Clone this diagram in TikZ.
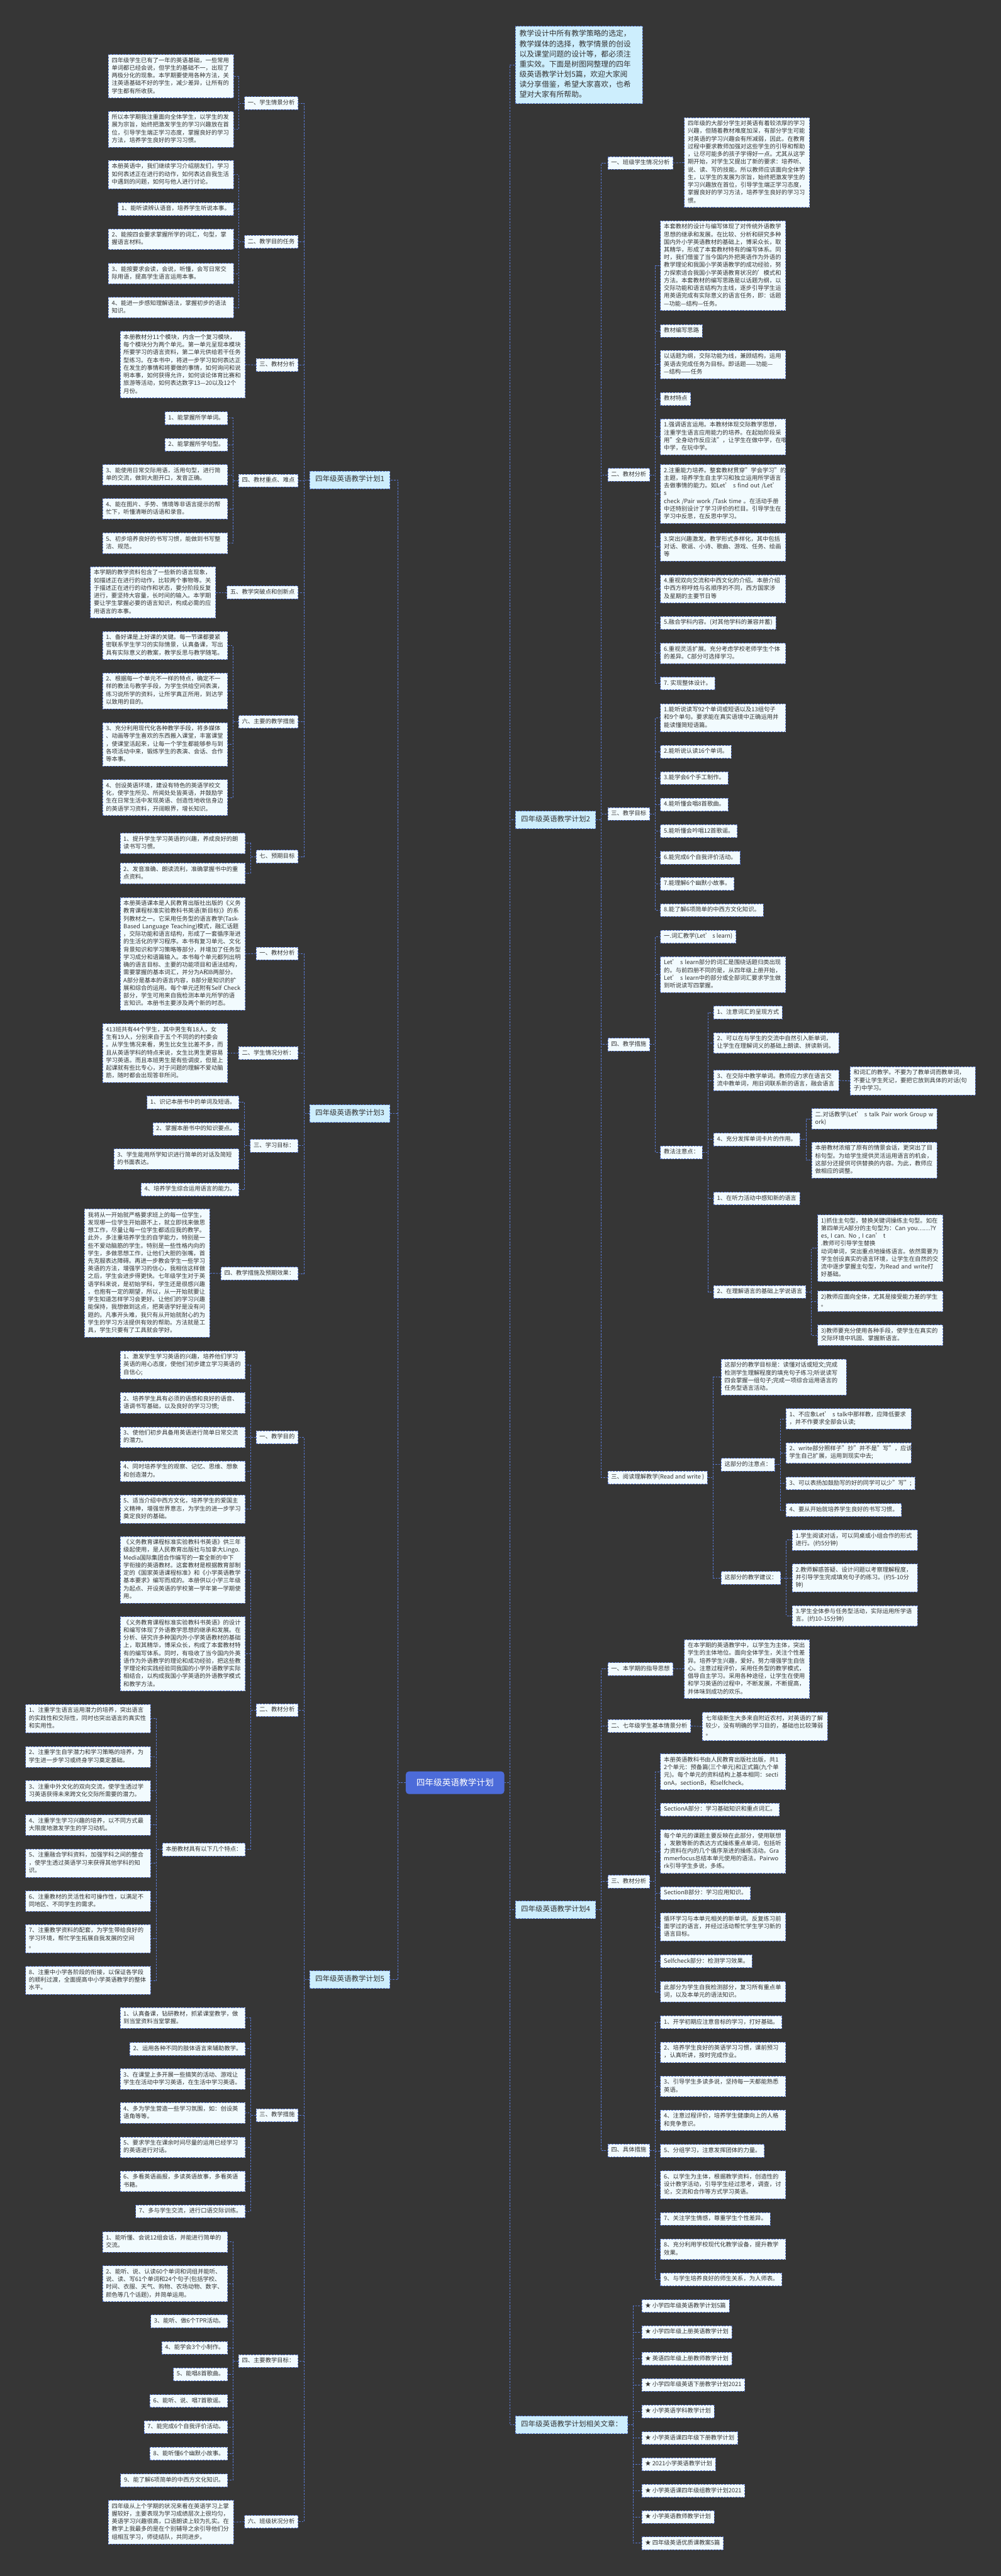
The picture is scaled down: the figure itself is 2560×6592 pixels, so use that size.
\documentclass[tikz,border=0pt]{standalone}
\usepackage{fontspec}
\setmainfont{Noto Sans CJK SC}
\definecolor{bg}{HTML}{363636}
\definecolor{ln}{HTML}{5A7BD8}
\definecolor{leaff}{HTML}{F2FBFE}
\definecolor{lonef}{HTML}{CDEEFD}
\definecolor{txt}{HTML}{333333}
\definecolor{ctrf}{HTML}{4C6BD9}
\newcommand{\fsleaf}{\fontsize{15pt}{19.7pt}\selectfont}
\newcommand{\fslone}{\fontsize{18.5pt}{23pt}\selectfont}
\newcommand{\fsintro}{\fontsize{19pt}{26pt}\selectfont}
\newcommand{\fsctr}{\fontsize{22pt}{28pt}\selectfont}
\tikzset{
  base/.style={draw=ln, line width=1.4pt, dash pattern=on 4.5pt off 3pt, text=txt, align=left,
    execute at begin node=\strut, execute at end node=\strut},
  leaf/.style={base, fill=leaff, font=\fsleaf, inner xsep=8.5pt, inner ysep=6.5pt},
  wide/.style={leaf, text width=303pt},
  lone/.style={base, fill=lonef, font=\fslone, inner xsep=14pt, inner ysep=11pt},
  intro/.style={base, fill=lonef, font=\fsintro, inner xsep=10pt, inner ysep=8pt, text width=305pt},
  ctr/.style={fill=ctrf, rounded corners=8pt, text=white, font=\fsctr, minimum width=252pt, minimum height=58pt, inner sep=10pt},
  conn/.style={draw=ln, line width=1.4pt, dash pattern=on 4.5pt off 3pt},
}
\begin{document}
\begin{tikzpicture}[x=1pt,y=-1pt]
\fill[bg] (0,0) rectangle (2560,6592);
\useasboundingbox (0,0) rectangle (2560,6592);

\node[ctr] (ctr) at (1164,4562) {四年级英语教学计划};

% ================= LEFT: plan 1 =================
\node[lone,anchor=east] (p1) at (998,1228) {四年级英语教学计划1};
\node[leaf,anchor=east] (p1a) at (763,264) {一、学生情景分析};
\node[wide,anchor=east] (p1a1) at (598,195) {四年级学生已有了一年的英语基础，一些常用\\单词都已经会说，但学生的基础不一，出现了\\两极分化的现象。本学期要使用各种方法，关\\注英语基础不好的学生，减少差异，让所有的\\学生都有所收获。};
\node[wide,anchor=east] (p1a2) at (598,331) {所以本学期我注重面向全体学生，以学生的发\\展为宗旨，始终把激发学生的学习兴趣放在首\\位，引导学生端正学习态度，掌握良好的学习\\方法，培养学生良好的学习习惯。};
\node[leaf,anchor=east] (p1b) at (763,619) {二、教学目的任务};
\node[wide,anchor=east] (p1b0) at (598,447) {本册英语中，我们继续学习介绍朋友们，学习\\如何表述正在进行的动作，如何表达自我生活\\中遇到的问题，如何与他人进行讨论。};
\node[leaf,anchor=east] (p1b1) at (598,535) {1、能听读辨认语音，培养学生听说本事。};
\node[wide,anchor=east] (p1b2) at (598,612) {2、能按四会要求掌握所学的词汇，句型，掌\\握语言材料。};
\node[wide,anchor=east] (p1b3) at (598,700) {3、能按要求会读，会说，听懂，会写日常交\\际用语，提高学生语言运用本事。};
\node[wide,anchor=east] (p1b4) at (598,787) {4、能进一步感知理解语法，掌握初步的语法\\知识。};
\node[leaf,anchor=east] (p1c) at (763,934) {三、教材分析};
\node[wide,anchor=east] (p1c1) at (628,933) {本册教材分11个模块，内含一个复习模块，\\每个模块分为两个单元。第一单元呈现本模块\\所要学习的语言资料，第二单元供给若干任务\\型练习。在本书中，将进一步学习如何表达正\\在发生的事情和将要做的事情，如何询问和说\\明本事，如何获得允许，如何谈论体育比赛和\\旅游等活动，如何表达数字13—20以及12个\\月份。};
\node[leaf,anchor=east] (p1d) at (763,1230) {四、教材重点、难点};
\node[leaf,anchor=east] (p1d1) at (583,1070) {1、能掌握所学单词。};
\node[leaf,anchor=east] (p1d2) at (583,1138) {2、能掌握所学句型。};
\node[wide,anchor=east] (p1d3) at (583,1215) {3、能使用日常交际用语，活用句型，进行简\\单的交流，做到大胆开口，发音正确。};
\node[wide,anchor=east] (p1d4) at (583,1302) {4、能在图片、手势、情境等非语言提示的帮\\忙下，听懂清晰的话语和录音。};
\node[wide,anchor=east] (p1d5) at (583,1390) {5、初步培养良好的书写习惯，能做到书写整\\洁、规范。};
\node[leaf,anchor=east] (p1e) at (763,1516) {五、教学突破点和创新点};
\node[wide,anchor=east] (p1e1) at (552,1516) {本学期的教学资料包含了一些新的语言现象，\\如描述正在进行的动作，比较两个事物等。关\\于描述正在进行的动作和状态，要分阶段反复\\进行，要坚持大容量，长时间的输入。本学期\\要让学生掌握必要的语言知识，构成必需的应\\用语言的本事。};
\node[leaf,anchor=east] (p1f) at (763,1847) {六、主要的教学措施};
\node[wide,anchor=east] (p1f1) at (583,1652) {1、备好课是上好课的关键。每一节课都要紧\\密联系学生学习的实际情景，认真备课，写出\\具有实际意义的教案，教学反思与教学随笔。};
\node[wide,anchor=east] (p1f2) at (583,1768) {2、根据每一个单元不一样的特点，确定不一\\样的教法与教学手段，为学生供给空间表演，\\练习说所学的资料，让所学真正所用，到达学\\以致用的目的。};
\node[wide,anchor=east] (p1f3) at (583,1905) {3、充分利用现代化各种教学手段，将多媒体\\、动画等学生喜欢的东西搬入课堂，丰富课堂\\，使课堂活起来，让每一个学生都能够参与到\\各项活动中来，锻炼学生的表演、会话、合作\\等本事。};
\node[wide,anchor=east] (p1f4) at (583,2041) {4、创设英语环境，建设有特色的英语学校文\\化，使学生所见、所闻处处皆英语，并鼓励学\\生在日常生活中发现英语、创造性地收信身边\\的英语学习资料，开阔眼界，增长知识。};
\node[leaf,anchor=east] (p1g) at (763,2192) {七、预期目标};
\node[wide,anchor=east] (p1g1) at (628,2158) {1、提升学生学习英语的兴趣，养成良好的朗\\读书写习惯。};
\node[wide,anchor=east] (p1g2) at (628,2235) {2、发音准确、朗读流利，准确掌握书中的重\\点资料。};

\foreach \c in {p1a,p1b,p1c,p1d,p1e,p1f,p1g} \draw[conn] (p1.west) -- ++(-14,0) |- (\c.east);
\foreach \c in {p1a1,p1a2} \draw[conn] (p1a.west) -- ++(-14,0) |- (\c.east);
\foreach \c in {p1b0,p1b1,p1b2,p1b3,p1b4} \draw[conn] (p1b.west) -- ++(-14,0) |- (\c.east);
\draw[conn] (p1c.west) -- (p1c1.east);
\foreach \c in {p1d1,p1d2,p1d3,p1d4,p1d5} \draw[conn] (p1d.west) -- ++(-14,0) |- (\c.east);
\draw[conn] (p1e.west) -- (p1e1.east);
\foreach \c in {p1f1,p1f2,p1f3,p1f4} \draw[conn] (p1f.west) -- ++(-14,0) |- (\c.east);
\foreach \c in {p1g1,p1g2} \draw[conn] (p1g.west) -- ++(-14,0) |- (\c.east);

% ================= LEFT: plan 3 =================
\node[lone,anchor=east] (p3) at (998,2850) {四年级英语教学计划3};
\node[leaf,anchor=east] (p3a) at (763,2440) {一、教材分析};
\node[wide,anchor=east] (p3a1) at (628,2441) {本册英语课本是人民教育出版社出版的《义务\\教育课程标准实验教科书英语(新目标)》的系\\列教材之一。它采用任务型的语言教学(Task-\\Based Language Teaching)模式，融汇话题\\，交际功能和语言结构，形成了一套循序渐进\\的生活化的学习程序。本书有复习单元、文化\\背景知识和学习策略等部分，并增加了任务型\\学习成分和语篇输入。本书每个单元都列出明\\确的语言目标、主要的功能项目和语法结构，\\需要掌握的基本词汇，并分为A和B两部分。\\A部分是基本的语言内容，B部分是知识的扩\\展和综合的运用。每个单元还附有Self Check\\ 部分，学生可用来自我检测本单元所学的语\\言知识。本册书主要涉及两个新的时态。};
\node[leaf,anchor=east] (p3b) at (763,2695) {二、学生情况分析：};
\node[wide,anchor=east] (p3b1) at (583,2695) {413班共有44个学生，其中男生有18人，女\\生有19人，分别来自于五个不同的的村委会\\。从学生情况来看，男生比女生比差不多，而\\且从英语学科的特点来说，女生比男生更容易\\学习英语。而且本班男生是有些调皮，但是上\\起课就有些比专心，对于问题的理解不爱动脑\\筋，随时都会出现答非所问。};
\node[leaf,anchor=east] (p3c) at (763,2932) {三、学习目标：};
\node[leaf,anchor=east] (p3c1) at (612,2821) {1、识记本册书中的单词及短语。};
\node[leaf,anchor=east] (p3c2) at (612,2889) {2、掌握本册书中的知识要点。};
\node[wide,anchor=east] (p3c3) at (612,2966) {3、学生能用所学知识进行简单的对话及简短\\的书面表达。};
\node[leaf,anchor=east] (p3c4) at (612,3044) {4、培养学生综合运用语言的能力。};
\node[leaf,anchor=east] (p3d) at (763,3259) {四、教学措施及预期效果：};
\node[wide,anchor=east] (p3d1) at (537,3258) {我将从一开始就严格要求班上的每一位学生，\\发现哪一位学生开始跟不上，就立即找来做思\\想工作，尽量让每一位学生都适应我的教学。\\此外，多注重培养学生的自学能力，特别是一\\些不爱动脑筋的学生。特别是一些性格内向的\\学生，多做思想工作，让他们大胆的张嘴，首\\先克服表达障碍。再进一步教会学生一些学习\\英语的方法，增强学习的信心，我相信这样做\\之后，学生会进步得更快。七年级学生对于英\\语学科来说，是初始学科，学生还是很感兴趣\\，也抱有一定的期望，所以，从一开始就要让\\学生知道怎样学习会更好。让他们的学习兴趣\\能保持，我想做到这点，把英语学好是没有问\\题的。凡事开头难，我只有从开始就耐心的为\\学生的学习方法提供有效的帮助。方法就是工\\具，学生只要有了工具就会学好。};

\foreach \c in {p3a,p3b,p3c,p3d} \draw[conn] (p3.west) -- ++(-14,0) |- (\c.east);
\draw[conn] (p3a.west) -- (p3a1.east);
\draw[conn] (p3b.west) -- (p3b1.east);
\foreach \c in {p3c1,p3c2,p3c3,p3c4} \draw[conn] (p3c.west) -- ++(-14,0) |- (\c.east);
\draw[conn] (p3d.west) -- (p3d1.east);

% ================= LEFT: plan 5 =================
\node[lone,anchor=east] (p5) at (998,5066) {四年级英语教学计划5};
\node[leaf,anchor=east] (p5a) at (763,3678) {一、教学目的};
\node[wide,anchor=east] (p5a1) at (628,3493) {1、激发学生学习英语的兴趣，培养他们学习\\英语的用心态度，使他们初步建立学习英语的\\自信心;};
\node[wide,anchor=east] (p5a2) at (628,3590) {2、培养学生具有必须的语感和良好的语音、\\语调书写基础，以及良好的学习习惯;};
\node[wide,anchor=east] (p5a3) at (628,3678) {3、使他们初步具备用英语进行简单日常交流\\的潜力。};
\node[wide,anchor=east] (p5a4) at (628,3765) {4、同时培养学生的观察、记忆、思维、想象\\和创造潜力。};
\node[wide,anchor=east] (p5a5) at (628,3862) {5、适当介绍中西方文化，培养学生的爱国主\\义精神，增强世界意志，为学生的进一步学习\\奠定良好的基础。};
\node[leaf,anchor=east] (p5b) at (763,4376) {二、教材分析};
\node[wide,anchor=east] (p5b1) at (628,4017) {《义务教育课程标准实验教科书英语》供三年\\级起使用，是人民教育出版社与加拿大Lingo.\\Media国际集团合作编写的一套全新的中下\\学衔接的英语教材。这套教材是根据教育部制\\定的《国家英语课程标准》和《小学英语教学\\基本要求》编写而成的。本册供以小学三年级\\为起点、开设英语的学校第一学年第一学期使\\用。};
\node[wide,anchor=east] (p5b2) at (628,4232) {《义务教育课程标准实验教科书英语》的设计\\和编写体现了外语教学思想的继承和发展。在\\分析、研究许多种国内外小学英语教材的基础\\上，取其精华，博采众长，构成了本套教材特\\有的编写体系。同时，有吸收了当今国内外英\\语作为外语教学的理论和成功经验，把这些教\\学理论和实践经验同我国的小学外语教学实际\\相结合，以构成我国小学英语的外语教学模式\\和教学方法。};
\node[leaf,anchor=east] (p5b3) at (628,4733) {本册教材具有以下几个特点：};
\node[wide,anchor=east] (p5t1) at (386,4398) {1、注重学生语言运用潜力的培养，突出语言\\的实践性和交际性，同时也突出语言的真实性\\和实用性。};
\node[wide,anchor=east] (p5t2) at (386,4496) {2、注重学生自学潜力和学习策略的培养，为\\学生进一步学习或终身学习奠定基础。};
\node[wide,anchor=east] (p5t3) at (386,4583) {3、注重中外文化的双向交流，使学生透过学\\习英语获得未来跨文化交际所需要的潜力。};
\node[wide,anchor=east] (p5t4) at (386,4670) {4、注重学生学习兴趣的培养，以不同方式最\\大限度地激发学生的学习动机。};
\node[wide,anchor=east] (p5t5) at (386,4768) {5、注重融合学科资料，加强学科之间的整合\\，使学生透过英语学习来获得其他学科的知\\识。};
\node[wide,anchor=east] (p5t6) at (386,4865) {6、注重教材的灵活性和可操作性，以满足不\\同地区、不同学生的需求。};
\node[wide,anchor=east] (p5t7) at (386,4961) {7、注重教学资料的配套，为学生带给良好的\\学习环境，帮忙学生拓展自我发展的空间\\。};
\node[wide,anchor=east] (p5t8) at (386,5068) {8、注重中小学各阶段的衔接，以保证各学段\\的顺利过渡，全面提高中小学英语教学的整体\\水平。};
\node[leaf,anchor=east] (p5c) at (763,5413) {三、教学措施};
\node[wide,anchor=east] (p5c1) at (628,5164) {1、认真备课，钻研教材，抓紧课堂教学，做\\到当堂资料当堂掌握。};
\node[leaf,anchor=east] (p5c2) at (628,5243) {2、运用各种不同的肢体语言来辅助教学。};
\node[wide,anchor=east] (p5c3) at (628,5320) {3、在课堂上多开展一些搞笑的活动、游戏让\\学生在活动中学习英语，在生活中学习英语。};
\node[wide,anchor=east] (p5c4) at (628,5407) {4、多为学生营造一些学习氛围，如：创设英\\语角等等。};
\node[wide,anchor=east] (p5c5) at (628,5495) {5、要求学生在课余时间尽量的运用已经学习\\的英语进行对话。};
\node[wide,anchor=east] (p5c6) at (628,5582) {6、多看英语画报，多读英语故事，多看英语\\书籍。};
\node[leaf,anchor=east] (p5c7) at (628,5659) {7、多与学生交流，进行口语交际训练。};
\node[leaf,anchor=east] (p5d) at (763,6042) {四、主要教学目标：};
\node[wide,anchor=east] (p5d1) at (583,5737) {1、能听懂、会说12组会话，并能进行简单的\\交流。};
\node[wide,anchor=east] (p5d2) at (583,5844) {2、能听、说、认读60个单词和词组并能听、\\说、读、写61个单词和24个句子(包括学校、\\时间、衣服、天气、购物、农场动物、数字、\\颜色等几个话题)，并简单运用。};
\node[leaf,anchor=east] (p5d3) at (583,5940) {3、能听、做6个TPR活动。};
\node[leaf,anchor=east] (p5d4) at (583,6008) {4、能学会3个小制作。};
\node[leaf,anchor=east] (p5d5) at (583,6076) {5、能唱8首歌曲。};
\node[leaf,anchor=east] (p5d6) at (583,6144) {6、能听、说、唱7首歌谣。};
\node[leaf,anchor=east] (p5d7) at (583,6211) {7、能完成6个自我评价活动。};
\node[leaf,anchor=east] (p5d8) at (583,6279) {8、能听懂6个幽默小故事。};
\node[leaf,anchor=east] (p5d9) at (583,6347) {9、能了解6项简单的中西方文化知识。};
\node[leaf,anchor=east] (p5e) at (763,6453) {六、班级状况分析};
\node[wide,anchor=east] (p5e1) at (598,6454) {四年级从上个学期的状况来看在英语学习上掌\\握较好，主要表现为学习成绩层次上很均匀，\\英语学习兴趣很高，口语朗读上较为扎实。在\\教学上我最多的是在个别辅导之余引导他们分\\组相互学习，师徒结队，共同进步。};

\foreach \c in {p5a,p5b,p5c,p5d,p5e} \draw[conn] (p5.west) -- ++(-14,0) |- (\c.east);
\foreach \c in {p5a1,p5a2,p5a3,p5a4,p5a5} \draw[conn] (p5a.west) -- ++(-14,0) |- (\c.east);
\foreach \c in {p5b1,p5b2,p5b3} \draw[conn] (p5b.west) -- ++(-14,0) |- (\c.east);
\foreach \c in {p5t1,p5t2,p5t3,p5t4,p5t5,p5t6,p5t7,p5t8} \draw[conn] (p5b3.west) -- ++(-14,0) |- (\c.east);
\foreach \c in {p5c1,p5c2,p5c3,p5c4,p5c5,p5c6,p5c7} \draw[conn] (p5c.west) -- ++(-14,0) |- (\c.east);
\foreach \c in {p5d1,p5d2,p5d3,p5d4,p5d5,p5d6,p5d7,p5d8,p5d9} \draw[conn] (p5d.west) -- ++(-14,0) |- (\c.east);
\draw[conn] (p5e.west) -- (p5e1.east);

% center to left
\foreach \c in {p1,p3,p5} \draw[conn] (ctr.west) -- ++(-20,0) |- (\c.east);

% ================= RIGHT: intro =================
\node[intro,anchor=west] (intro) at (1318,166) {教学设计中所有教学策略的选定，\\教学媒体的选择，教学情景的创设\\以及课堂问题的设计等，都必须注\\重实效。下面是树图网整理的四年\\级英语教学计划5篇，欢迎大家阅\\读分享借鉴，希望大家喜欢，也希\\望对大家有所帮助。};

% ================= RIGHT: plan 2 =================
\node[lone,anchor=west] (p2) at (1318,2098) {四年级英语教学计划2};
\node[leaf,anchor=west] (p2a) at (1554,417) {一、班级学生情况分析};
\node[wide,anchor=west] (p2a1) at (1750,416) {四年级的大部分学生对英语有着较浓厚的学习\\兴趣，但随着教材难度加深，有部分学生可能\\对英语的学习兴趣会有所减弱，因此，在教育\\过程中要求教师加强对这些学生的引导和帮助\\，让尽可能多的孩子学得好一点。尤其从这学\\期开始，对学生又提出了新的要求：培养听、\\说、读、写的技能。所以教师应该面向全体学\\生，以学生的发展为宗旨，始终把激发学生的\\学习兴趣放在首位，引导学生端正学习态度，\\掌握良好的学习方法，培养学生良好的学习习\\惯。};
\node[leaf,anchor=west] (p2b) at (1554,1215) {二、教材分析};
\node[wide,anchor=west] (p2b1) at (1689,680) {本套教材的设计与编写体现了对传统外语教学\\思想的继承和发展。在比较、分析和研究多种\\国内外小学英语教材的基础上，博采众长，取\\其精华，形成了本套教材特有的编写体系。同\\时，我们借鉴了当今国内外把英语作为外语的\\教学理论和我国小学英语教学的成功经验，努\\力探索适合我国小学英语教育状况的'模式和\\方法。本套教材的编写思路是以话题为纲，以\\交际功能和语言结构为主线，逐步引导学生运\\用英语完成有实际意义的语言任务，即：话题\\—功能—结构—任务。};
\node[leaf,anchor=west] (p2b2) at (1689,847) {教材编写思路};
\node[wide,anchor=west] (p2b3) at (1689,933) {以话题为纲，交际功能为线，兼顾结构，运用\\英语去完成任务为目标。即话题——功能—\\—结构——任务};
\node[leaf,anchor=west] (p2b4) at (1689,1021) {教材特点};
\node[wide,anchor=west] (p2b5) at (1689,1118) {1.强调语言运用。本教材体现交际教学思想，\\注重学生语言应用能力的培养。在起始阶段采\\用"全身动作反应法"，让学生在做中学，在唱\\中学，在玩中学。};
\node[wide,anchor=west] (p2b6) at (1689,1264) {2.注重能力培养。整套教材贯穿"学会学习"的\\主题，培养学生自主学习和独立运用所学语言\\去做事情的能力。如Let’ s find out /Let’ s\\check /Pair work /Task time 。在活动手册\\中还特别设计了学习评价的栏目。引导学生在\\学习中反思，在反思中学习。};
\node[wide,anchor=west] (p2b7) at (1689,1400) {3.突出兴趣激发。教学形式多样化，其中包括\\对话、歌谣、小诗、歌曲、游戏、任务、绘画\\等};
\node[wide,anchor=west] (p2b8) at (1689,1507) {4.重视双向交流和中西文化的介绍。本册介绍\\中西方称呼姓与名顺序的不同，西方国家涉\\及星期的主要节日等};
\node[leaf,anchor=west] (p2b9) at (1689,1594) {5.融合学科内容。(对其他学科的兼容并蓄)};
\node[wide,anchor=west] (p2b10) at (1689,1672) {6.重视灵活扩展。充分考虑学校老师学生个体\\的差异。C部分可选择学习。};
\node[leaf,anchor=west] (p2b11) at (1689,1749) {7. 实现整体设计。};
\node[leaf,anchor=west] (p2c) at (1554,2083) {三、教学目标};
\node[wide,anchor=west] (p2c1) at (1689,1837) {1.能听说读写92个单词或短语以及13组句子\\和9个单句。要求能在真实语境中正确运用并\\能读懂简短语篇。};
\node[leaf,anchor=west] (p2c2) at (1689,1924) {2.能听说认读16个单词。};
\node[leaf,anchor=west] (p2c3) at (1689,1991) {3.能学会6个手工制作。};
\node[leaf,anchor=west] (p2c4) at (1689,2059) {4.能听懂会唱8首歌曲。};
\node[leaf,anchor=west] (p2c5) at (1689,2127) {5.能听懂会吟唱12首歌谣。};
\node[leaf,anchor=west] (p2c6) at (1689,2195) {6.能完成6个自我评价活动。};
\node[leaf,anchor=west] (p2c7) at (1689,2262) {7.能理解6个幽默小故事。};
\node[leaf,anchor=west] (p2c8) at (1689,2329) {8.能了解6项简单的中西方文化知识。};
\node[leaf,anchor=west] (p2d) at (1554,2673) {四、教学措施};
\node[leaf,anchor=west] (p2d1) at (1689,2397) {一.词汇教学(Let’ s learn)};
\node[wide,anchor=west] (p2d2) at (1689,2494) {Let’ s learn部分的词汇是围绕话题归类出现\\的。与前四册不同的是，从四年级上册开始，\\Let’ s learn中的部分或全部词汇要求学生做\\到听说读写四掌握。};
\node[leaf,anchor=west] (p2d3) at (1689,2949) {教法注意点：};
\node[leaf,anchor=west] (p2e1) at (1825,2591) {1、注意词汇的呈现方式};
\node[wide,anchor=west] (p2e2) at (1825,2669) {2、可以在与学生的交流中自然引入新单词，\\让学生在理解词义的基础上朗读、拼读新词。};
\node[wide,anchor=west] (p2e3) at (1825,2765) {3、在交际中教学单词。教师应力求在语言交\\流中教单词，用旧词联系新的语言，融会语言};
\node[wide,anchor=west] (p2e3a) at (2174,2766) {和词汇的教学。不要为了教单词而教单词，\\不要让学生死记，要把它放到具体的对话(句\\子)中学习。};
\node[leaf,anchor=west] (p2e4) at (1825,2916) {4、充分发挥单词卡片的作用。};
\node[wide,anchor=west] (p2e4a) at (2076,2863) {二.对话教学(Let’ s talk Pair work Group w\\ork)};
\node[wide,anchor=west] (p2e4b) at (2076,2969) {本册教材浓缩了原有的情景会话，更突出了目\\标句型。为给学生提供灵活运用语言的机会，\\这部分还提供可供替换的内容。为此，教师应\\做相应的调整。};
\node[leaf,anchor=west] (p2e5) at (1825,3067) {1、在听力活动中感知新的语言};
\node[leaf,anchor=west] (p2e6) at (1825,3306) {2、在理解语言的基础上学说语言};
\node[wide,anchor=west] (p2e6a) at (2091,3194) {1)抓住主句型，替换关键词操练主句型。如在\\第四单元A部分的主句型为：Can you……?Y\\es, I can. No , I can’ t .教师可引导学生替换\\动词单词，突出重点地操练语言。依然需要为\\学生创设真实的语言环境，让学生在自然的交\\流中逐步掌握主句型，为Read and write打\\好基础。};
\node[wide,anchor=west] (p2e6b) at (2091,3330) {2)教师应面向全体，尤其是接受能力差的学生\\。};
\node[wide,anchor=west] (p2e6c) at (2091,3417) {3)教师要充分使用各种手段，使学生在真实的\\交际环境中巩固、掌握新语言。};
\node[leaf,anchor=west] (p2f) at (1554,3781) {三、阅读理解教学(Read and write )};
\node[wide,anchor=west] (p2f1) at (1844,3524) {这部分的教学目标是：读懂对话或短文;完成\\检测学生理解程度的填充句子练习;听说读写\\四会掌握一组句子;完成一项综合运用语言的\\任务型语言活动。};
\node[leaf,anchor=west] (p2f2) at (1844,3748) {这部分的注意点：};
\node[wide,anchor=west] (p2g1) at (2010,3631) {1、不应象Let’ s talk中那样教，应降低要求\\，并不作要求全部会认读;};
\node[wide,anchor=west] (p2g2) at (2010,3718) {2、write部分照样子"抄"并不是"写"，应该让\\学生自己扩展，运用到现实中去;};
\node[leaf,anchor=west] (p2g3) at (2010,3796) {3、可以表扬加鼓励写的好的同学可以少"写";};
\node[leaf,anchor=west] (p2g4) at (2010,3864) {4、要从开始就培养学生良好的书写习惯。};
\node[leaf,anchor=west] (p2f3) at (1844,4038) {这部分的教学建议：};
\node[wide,anchor=west] (p2h1) at (2026,3941) {1.学生阅读对话，可以同桌或小组合作的形式\\进行。(约5分钟)};
\node[wide,anchor=west] (p2h2) at (2026,4038) {2.教师解惑答疑、设计问题以考察理解程度，\\并引导学生完成填充句子的练习。(约5-10分\\钟)};
\node[wide,anchor=west] (p2h3) at (2026,4135) {3.学生全体参与任务型活动，实际运用所学语\\言。(约10-15分钟)};

\foreach \c in {p2a,p2b,p2c,p2d,p2f} \draw[conn] (p2.east) -- ++(14,0) |- (\c.west);
\draw[conn] (p2a.east) -- (p2a1.west);
\foreach \c in {p2b1,p2b2,p2b3,p2b4,p2b5,p2b6,p2b7,p2b8,p2b9,p2b10,p2b11} \draw[conn] (p2b.east) -- ++(14,0) |- (\c.west);
\foreach \c in {p2c1,p2c2,p2c3,p2c4,p2c5,p2c6,p2c7,p2c8} \draw[conn] (p2c.east) -- ++(14,0) |- (\c.west);
\foreach \c in {p2d1,p2d2,p2d3} \draw[conn] (p2d.east) -- ++(14,0) |- (\c.west);
\foreach \c in {p2e1,p2e2,p2e3,p2e4,p2e5,p2e6} \draw[conn] (p2d3.east) -- ++(14,0) |- (\c.west);
\draw[conn] (p2e3.east) -- (p2e3a.west);
\foreach \c in {p2e4a,p2e4b} \draw[conn] (p2e4.east) -- ++(15,0) |- (\c.west);
\foreach \c in {p2e6a,p2e6b,p2e6c} \draw[conn] (p2e6.east) -- ++(14,0) |- (\c.west);
\foreach \c in {p2f1,p2f2,p2f3} \draw[conn] (p2f.east) -- ++(14,0) |- (\c.west);
\foreach \c in {p2g1,p2g2,p2g3,p2g4} \draw[conn] (p2f2.east) -- ++(14,0) |- (\c.west);
\foreach \c in {p2h1,p2h2,p2h3} \draw[conn] (p2f3.east) -- ++(14,0) |- (\c.west);

% ================= RIGHT: plan 4 =================
\node[lone,anchor=west] (p4) at (1318,4887) {四年级英语教学计划4};
\node[leaf,anchor=west] (p4a) at (1554,4271) {一、本学期的指导思想};
\node[wide,anchor=west] (p4a1) at (1750,4271) {在本学期的英语教学中，以学生为主体，突出\\学生的主体地位。面向全体学生，关注个性差\\异。培养学生兴趣，爱好。努力增强学生自信\\心。注意过程评价，采用任务型的教学模式，\\倡导自主学习。采用各种途径，让学生在使用\\和学习英语的过程中，不断发展，不断提高，\\并体味到成功的欢乐。};
\node[leaf,anchor=west] (p4b) at (1554,4417) {二、七年级学生基本情景分析};
\node[wide,anchor=west] (p4b1) at (1796,4418) {七年级新生大多来自附近农村，对英语的了解\\较少，没有明确的学习目的，基础也比较薄弱\\。};
\node[leaf,anchor=west] (p4c) at (1554,4815) {三、教材分析};
\node[wide,anchor=west] (p4c1) at (1689,4534) {本册英语教科书由人民教育出版社出版，共1\\2个单元：预备篇(三个单元)和正式篇(九个单\\元)。每个单元的资料结构上基本相同：secti\\onA，sectionB，和selfcheck。};
\node[leaf,anchor=west] (p4c2) at (1689,4631) {SectionA部分：学习基础知识和重点词汇。};
\node[wide,anchor=west] (p4c3) at (1689,4738) {每个单元的课题主要反映在此部分，使用联想\\，发散等新的表达方式操练重点单词，包括听\\力资料在内的几个循序渐进的操练活动。Gra\\mmerfocus总结本单元使用的语法。Pairwo\\rk引导学生多说，多练。};
\node[leaf,anchor=west] (p4c4) at (1689,4845) {SectionB部分：学习应用知识。};
\node[wide,anchor=west] (p4c5) at (1689,4931) {循环学习与本单元相关的新单词。反复练习前\\面学过的语言，并经过活动帮忙学生学习新的\\语言目标。};
\node[leaf,anchor=west] (p4c6) at (1689,5019) {Selfcheck部分：检测学习效果。};
\node[wide,anchor=west] (p4c7) at (1689,5097) {此部分为学生自我检测部分，复习所有重点单\\词，以及本单元的语法知识。};
\node[leaf,anchor=west] (p4d) at (1554,5503) {四、具体措施};
\node[leaf,anchor=west] (p4d1) at (1689,5175) {1、开学初期应注意音标的学习，打好基础。};
\node[wide,anchor=west] (p4d2) at (1689,5252) {2、培养学生良好的英语学习习惯，课前预习\\，认真听讲，按时完成作业。};
\node[wide,anchor=west] (p4d3) at (1689,5339) {3、引导学生多读多说，坚持每一天都能熟悉\\英语。};
\node[wide,anchor=west] (p4d4) at (1689,5426) {4、注意过程评价，培养学生健康向上的人格\\和竞争意识。};
\node[leaf,anchor=west] (p4d5) at (1689,5504) {5、分组学习，注意发挥团体的力量。};
\node[wide,anchor=west] (p4d6) at (1689,5591) {6、以学生为主体，根据教学资料，创造性的\\设计教学活动，引导学生经过思考，调查，讨\\论，交流和合作等方式学习英语。};
\node[leaf,anchor=west] (p4d7) at (1689,5678) {7、关注学生情感，尊重学生个性差异。};
\node[wide,anchor=west] (p4d8) at (1689,5756) {8、充分利用学校现代化教学设备，提升教学\\效果。};
\node[leaf,anchor=west] (p4d9) at (1689,5833) {9、与学生培养良好的师生关系，为人师表。};

\foreach \c in {p4a,p4b,p4c,p4d} \draw[conn] (p4.east) -- ++(14,0) |- (\c.west);
\draw[conn] (p4a.east) -- (p4a1.west);
\draw[conn] (p4b.east) -- (p4b1.west);
\foreach \c in {p4c1,p4c2,p4c3,p4c4,p4c5,p4c6,p4c7} \draw[conn] (p4c.east) -- ++(14,0) |- (\c.west);
\foreach \c in {p4d1,p4d2,p4d3,p4d4,p4d5,p4d6,p4d7,p4d8,p4d9} \draw[conn] (p4d.east) -- ++(14,0) |- (\c.west);

% ================= RIGHT: related =================
\node[lone,anchor=west] (p6) at (1318,6205) {四年级英语教学计划相关文章：};
\node[leaf,anchor=west] (p6a) at (1641,5901) {★ 小学四年级英语教学计划5篇};
\node[leaf,anchor=west] (p6b) at (1641,5968) {★ 小学四年级上册英语教学计划};
\node[leaf,anchor=west] (p6c) at (1641,6036) {★ 英语四年级上册教师教学计划};
\node[leaf,anchor=west] (p6d) at (1641,6103) {★ 小学四年级英语下册教学计划2021};
\node[leaf,anchor=west] (p6e) at (1641,6171) {★ 小学英语学科教学计划};
\node[leaf,anchor=west] (p6f) at (1641,6239) {★ 小学英语课四年级下册教学计划};
\node[leaf,anchor=west] (p6g) at (1641,6306) {★ 2021小学英语教学计划};
\node[leaf,anchor=west] (p6h) at (1641,6374) {★ 小学英语课四年级组教学计划2021};
\node[leaf,anchor=west] (p6i) at (1641,6441) {★ 小学英语教师教学计划};
\node[leaf,anchor=west] (p6j) at (1641,6508) {★ 四年级英语优质课教案5篇};
\foreach \c in {p6a,p6b,p6c,p6d,p6e,p6f,p6g,p6h,p6i,p6j} \draw[conn] (p6.east) -- ++(14,0) |- (\c.west);

% center to right
\foreach \c in {intro,p2,p4,p6} \draw[conn] (ctr.east) -- ++(14,0) |- (\c.west);
\end{tikzpicture}
\end{document}
